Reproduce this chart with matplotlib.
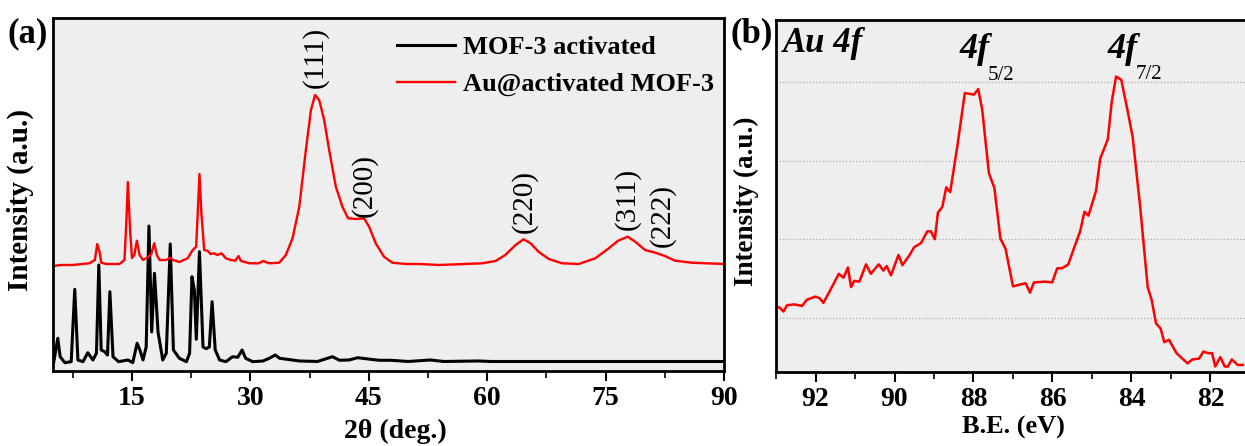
import numpy as np
import matplotlib.pyplot as plt

plt.rcParams['font.family'] = ['Liberation Serif', 'DejaVu Serif']

# (a) XRD patterns, 2theta in degrees, intensity in a.u.
mof_x = [5.1, 5.6, 5.9, 6.5, 7.3, 7.75, 8.15, 8.8, 9.4, 10.05, 10.5, 10.8, 11.1, 11.55, 11.9,
         12.2, 12.6, 13.3, 14.5, 15.1, 15.65, 16.0, 16.4, 16.8, 17.15, 17.5, 17.85, 18.3, 18.9,
         19.35, 19.85, 20.25, 21.0, 21.9, 22.3, 22.6, 22.9, 23.15, 23.55, 24.0, 24.4, 24.8,
         25.15, 25.55, 26.1, 26.9, 27.75, 28.4, 28.95, 29.4, 30.3, 31.6, 32.4, 33.15, 33.7,
         35.3, 36.2, 38.5, 40.4, 41.3, 42.5, 43.6, 44.6, 46.3, 47.8, 50.0, 52.8, 54.5, 58.9,
         60.5, 70.0, 80.0, 90.0]
mof_y = [9.3, 32.7, 14.3, 8.3, 9.3, 81.7, 11, 9.3, 18.3, 11, 17.7, 106, 21, 19.3, 16,
         79.3, 14.3, 9.3, 11, 8.3, 27.7, 21, 11, 24, 145, 39, 97.7, 39, 11,
         17.7, 127, 21, 12.7, 9.3, 17.7, 94.3, 81, 31.7, 119.3, 24, 22.3, 24,
         69.3, 21, 11, 9.3, 14.3, 13.7, 21, 12.7, 9.3, 10, 12.7, 16, 12.7,
         11, 10, 9.5, 14.3, 10.7, 11, 13.3, 12.3, 10.7, 10.7, 9.5, 11, 9.5, 10,
         9.5, 9.5, 9.5, 9.5]

au_x = [5.1, 5.9, 7.5, 9.6, 10.3, 10.6, 10.9, 11.1, 11.75, 13.4, 14.05, 14.28, 14.48, 14.76,
        15.0, 15.3, 15.62, 15.96, 16.4, 17.0, 17.45, 17.82, 18.15, 18.5, 19.35, 19.85, 20.2,
        21.0, 22.05, 22.7, 23.13, 23.33, 23.55, 23.8, 24.15, 24.55, 24.97, 25.4, 25.8, 26.35,
        26.9, 27.5, 28.1, 28.5, 28.8, 29.9, 31.1, 31.6, 32.4, 33.66, 34.5, 35.34, 36.2, 37.03,
        37.67, 38.2, 38.72, 39.35, 39.98, 40.83, 41.66, 42.38, 43.36, 44.4, 45.04, 45.88,
        46.93, 47.98, 49.7, 51.4, 53.9, 59.4, 61.05, 62.3, 63.6, 64.6, 65.5, 66.5, 67.8, 69.5,
        71.6, 73.7, 75.4, 76.6, 77.8, 78.75, 80.0, 81.3, 82.5, 83.8, 85.9, 90.0]
au_y = [105, 106, 106, 107.7, 111, 127, 119, 108.3, 107, 107, 111, 147.7, 189, 141,
        113, 116, 130.3, 116, 111, 113.7, 117, 127.7, 116, 111, 111, 113.3, 111,
        109, 112.7, 121, 124.3, 157.7, 197, 157, 121, 120.3, 117, 117.7, 116, 117.7,
        112.7, 111, 110.3, 115, 110, 107.7, 107.7, 110, 107.7, 108.3, 116, 132.7, 164.3, 221,
        261, 276, 271, 251, 221, 184.3, 164.3, 152.7, 152, 152.7, 144.3, 127.7,
        114.3, 108.3, 107, 107, 106, 107.7, 110, 116, 126, 131.7, 127.7, 119.3, 112, 107.7,
        107, 112.7, 122.7, 130.3, 134.3, 129.3, 121, 118.3, 115, 110.3, 108.3, 107]

peak_labels = ['(111)', '(200)', '(220)', '(311)', '(222)']
peak_pos = [38.2, 44.4, 64.7, 77.8, 82.2]
peak_base = [283, 154, 138, 141, 124]

# (b) XPS Au 4f, binding energy (eV) vs intensity
be_x = [93.01, 92.91, 92.81, 92.72, 92.53, 92.34, 92.22, 92.0, 91.9, 91.8, 91.65, 91.41, 91.29,
        91.18, 91.10, 91.02, 90.89, 90.72, 90.60, 90.40, 90.28, 90.20, 90.09, 89.90, 89.80,
        89.63, 89.50, 89.33, 89.17, 89.08, 88.98, 88.90, 88.79, 88.69, 88.59, 88.41, 88.22,
        87.99, 87.88, 87.78, 87.61, 87.47, 87.32, 87.19, 87.00, 86.85, 86.68, 86.57, 86.47,
        86.18, 86.01, 85.88, 85.76, 85.60, 85.46, 85.30, 85.19, 85.09, 84.90, 84.79, 84.60,
        84.50, 84.39, 84.26, 84.12, 83.97, 83.78, 83.59, 83.49, 83.38, 83.26, 83.17, 83.05,
        82.86, 82.71, 82.58, 82.46, 82.29, 82.18, 82.06, 81.96, 81.88, 81.75, 81.64, 81.56,
        81.46, 81.31, 81.18]
be_y = [1.14, 1.13, 1.08, 1.16, 1.17, 1.15, 1.23, 1.27, 1.25, 1.19, 1.33, 1.56, 1.51,
        1.64, 1.39, 1.47, 1.46, 1.68, 1.56, 1.68, 1.60, 1.66, 1.54, 1.80, 1.67,
        1.79, 1.90, 1.95, 2.10, 2.10, 2.00, 2.34, 2.41, 2.66, 2.60, 3.18, 3.86,
        3.84, 3.91, 3.65, 2.84, 2.65, 2.01, 1.88, 1.40, 1.42, 1.44, 1.32, 1.45,
        1.46, 1.45, 1.63, 1.63, 1.68, 1.88, 2.10, 2.35, 2.30, 2.61, 3.03, 3.27,
        3.75, 4.07, 4.03, 3.69, 3.30, 2.41, 1.39, 1.23, 0.93, 0.86, 0.69, 0.72,
        0.55, 0.48, 0.42, 0.47, 0.48, 0.57, 0.55, 0.55, 0.38, 0.50, 0.38, 0.38,
        0.47, 0.40, 0.40]

bg = '#eeeeee'
fig = plt.figure(figsize=(12.45, 4.46), dpi=100)

# ---- panel (a)
ax1 = fig.add_axes([0.0426, 0.1682, 0.5389, 0.7914])
ax1.set_facecolor(bg)
ax1.plot(mof_x, mof_y, color='black', lw=2.2, label='MOF-3 activated')
ax1.plot(au_x, au_y, color='#ff0000', lw=1.7, label='Au@activated MOF-3')
ax1.set_xlim(5, 90)
ax1.set_ylim(0, 353)
ax1.set_xticks([15, 30, 45, 60, 75, 90])
ax1.set_xticks(np.arange(7.5, 90, 15), minor=True)
ax1.set_yticks([])
ax1.tick_params(axis='x', which='major', direction='out', length=7, width=1.5,
                labelsize=20, pad=4)
ax1.tick_params(axis='x', which='minor', direction='out', length=5, width=1.2)
for lab in ax1.get_xticklabels():
    lab.set_fontweight('bold')
ax1.set_xlabel('2θ (deg.)', fontsize=20, fontweight='bold')
ax1.xaxis.set_label_coords(0.51, -0.135)
ax1.set_ylabel('Intensity (a.u.)', fontsize=21, fontweight='bold')
ax1.yaxis.set_label_coords(-0.028, 0.485)
for s in ax1.spines.values():
    s.set_linewidth(2)
for lab, x, y in zip(peak_labels, peak_pos, peak_base):
    ax1.text(x, y, lab, rotation=90, ha='center', va='bottom', fontsize=21)
ax1.legend(loc='upper left', bbox_to_anchor=(0.513, 0.95), frameon=False,
           prop={'size': 19, 'weight': 'bold'}, handlelength=2.2,
           handletextpad=0.3, labelspacing=0.5, borderpad=0, borderaxespad=0)

# ---- panel (b)
ax2 = fig.add_axes([0.6233, 0.1659, 0.3807, 0.7893])
ax2.set_facecolor(bg)
ax2.plot(be_x, be_y, color='#ff0000', lw=1.8)
ax2.set_xlim(93, 81.0)
ax2.set_ylim(0.31, 4.79)
ax2.set_xticks([92, 90, 88, 86, 84, 82])
ax2.set_xticks([93, 91, 89, 87, 85, 83, 81], minor=True)
ax2.set_yticks([1, 2, 3, 4])
ax2.set_yticklabels([])
ax2.grid(axis='y', linestyle=':', color='#aaaaaa', lw=0.9)
ax2.tick_params(axis='y', length=0)
ax2.tick_params(axis='x', which='major', direction='out', length=7, width=1.5,
                labelsize=20, pad=4)
ax2.tick_params(axis='x', which='minor', direction='out', length=5, width=1.2)
for lab in ax2.get_xticklabels():
    lab.set_fontweight('bold')
ax2.set_xlabel('B.E. (eV)', fontsize=19, fontweight='bold')
ax2.xaxis.set_label_coords(0.50, -0.125)
ax2.set_ylabel('Intensity (a.u.)', fontsize=19.5, fontweight='bold')
ax2.yaxis.set_label_coords(-0.036, 0.485)
for s in ax2.spines.values():
    s.set_linewidth(2)
ax2.text(92.82, 4.38, 'Au 4f', fontsize=25, fontweight='bold', style='italic', va='baseline')
ax2.text(88.35, 4.30, '4f', fontsize=26, fontweight='bold', style='italic', va='baseline')
ax2.text(87.65, 4.03, '5/2', fontsize=15, va='baseline')
ax2.text(84.61, 4.31, '4f', fontsize=26, fontweight='bold', style='italic', va='baseline')
ax2.text(83.90, 4.04, '7/2', fontsize=15, va='baseline')

fig.text(0.006, 1 - 42 / 446, '(a)', fontsize=25, fontweight='bold', va='baseline')
fig.text(730 / 1245, 1 - 42 / 446, '(b)', fontsize=25, fontweight='bold', va='baseline')

fig.savefig('out.png', dpi=100)
